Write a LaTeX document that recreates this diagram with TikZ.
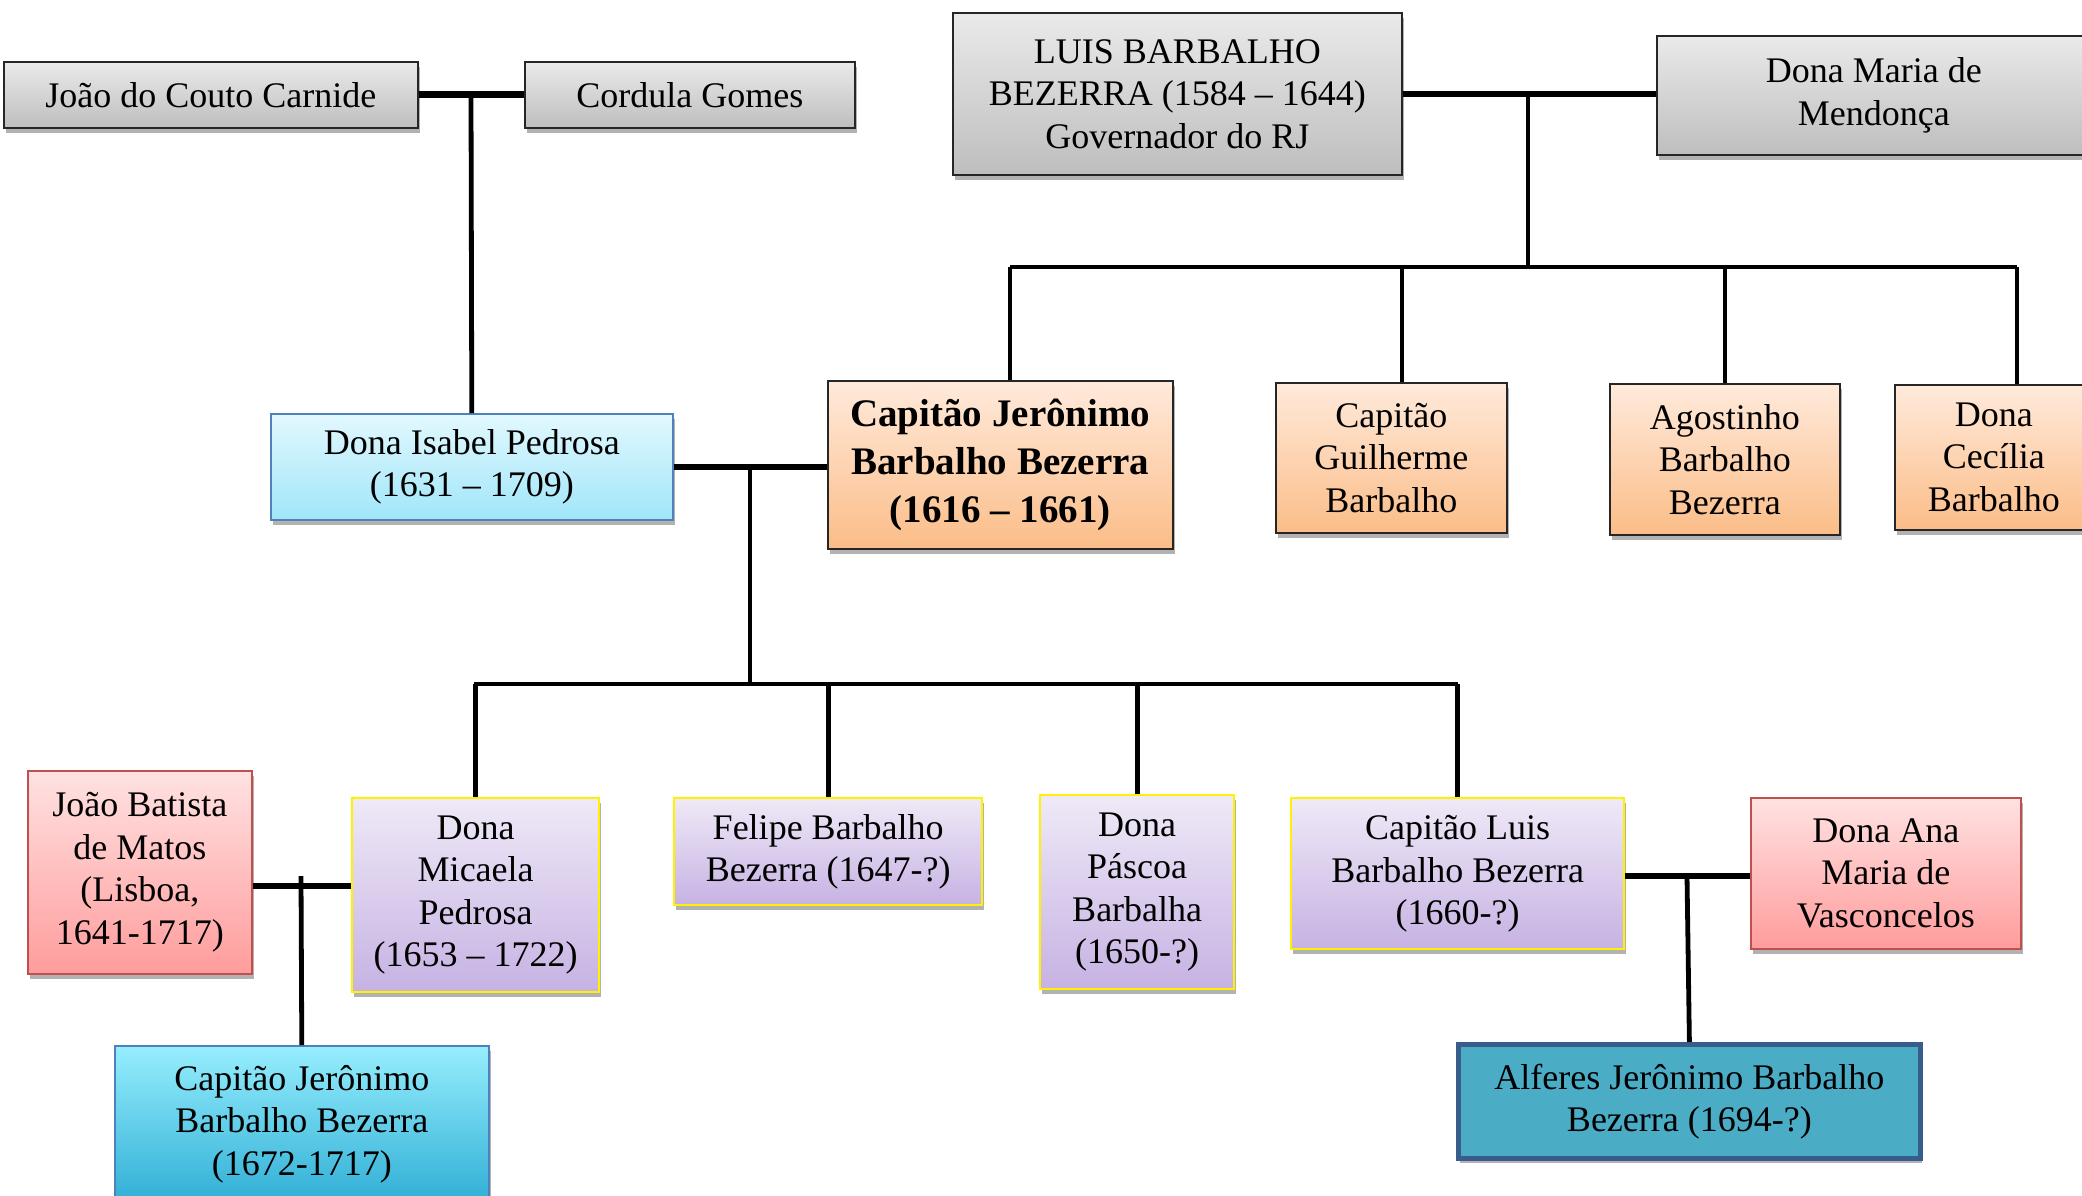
\documentclass[tikz,border=0pt]{standalone}
\usepackage{fontspec}
\setmainfont{Liberation Serif}
\usetikzlibrary{shadows}
\definecolor{grayT}{HTML}{EAEAEA}\definecolor{grayB}{HTML}{BEBEBE}
\definecolor{blueT}{HTML}{E2F8FE}\definecolor{blueB}{HTML}{A0E6FA}
\definecolor{blueL}{HTML}{4F81BD}
\definecolor{orT}{HTML}{FFEADB}\definecolor{orB}{HTML}{FBBD88}
\definecolor{redT}{HTML}{FFE2E2}\definecolor{redB}{HTML}{FF9C9C}
\definecolor{redL}{HTML}{C0504D}
\definecolor{puT}{HTML}{EFE9F7}\definecolor{puB}{HTML}{C6B2E3}
\definecolor{cyT}{HTML}{96EEFD}\definecolor{cyB}{HTML}{31AFD6}
\definecolor{alF}{HTML}{4BACC6}\definecolor{alL}{HTML}{385D8A}
\tikzset{
  box/.style={rectangle, anchor=north west, align=center, inner sep=0pt,
    font=\fontsize{18}{21.25}\selectfont, line width=0.8pt,
    drop shadow={shadow xshift=1pt, shadow yshift=-2.5pt, fill=black, opacity=0.3}},
  graybox/.style={box, draw=black!85, top color=grayT, bottom color=grayB},
  bluebox/.style={box, draw=blueL, top color=blueT, bottom color=blueB},
  orbox/.style={box, draw=black!85, top color=orT, bottom color=orB},
  redbox/.style={box, draw=redL, top color=redT, bottom color=redB},
  pubox/.style={box, draw=yellow, line width=1.2pt, top color=puT, bottom color=puB},
  cybox/.style={box, draw=blueL, top color=cyT, bottom color=cyB},
  albox/.style={box, draw=alL, line width=2.4pt, fill=alF},
  marry/.style={draw=black, line width=3.4pt},
  link/.style={draw=black, line width=2.4pt}
}
\begin{document}
\begin{tikzpicture}[x=0.5pt, y=-0.5pt]
\useasboundingbox (0,0) rectangle (2082,1195);
% generation 1
\node[graybox, minimum width=207pt, minimum height=33pt] (joao) at (3,61) {João do Couto Carnide};
\node[graybox, minimum width=165pt, minimum height=33pt] (cordula) at (524,61) {Cordula Gomes};
\node[graybox, minimum width=224.5pt, minimum height=81pt] (luis) at (952,12) {LUIS BARBALHO\\BEZERRA (1584 – 1644)\\Governador do RJ};
\node[graybox, minimum width=217pt, minimum height=59.5pt] (maria) at (1656,35) {Dona Maria de\\Mendonça};
% generation 2
\node[bluebox, minimum width=201pt, minimum height=53pt] (isabel) at (270,413) {Dona Isabel Pedrosa\\(1631 – 1709)};
\node[orbox, minimum width=172.5pt, minimum height=84pt, font=\fontsize{19.5}{24}\selectfont\bfseries] (capj) at (827,380) {Capitão Jerônimo\\Barbalho Bezerra\\(1616 – 1661)};
\node[orbox, minimum width=115.5pt, minimum height=75pt] (guilherme) at (1275,382) {Capitão\\Guilherme\\Barbalho};
\node[orbox, minimum width=115pt, minimum height=75.5pt] (agostinho) at (1609,383) {Agostinho\\Barbalho\\Bezerra};
\node[orbox, minimum width=99pt, minimum height=72.5pt] (cecilia) at (1894,384) {Dona\\Cecília\\Barbalho};
% generation 3
\node[redbox, minimum width=112pt, minimum height=101.5pt] (joaob) at (27,770) {João Batista\\de Matos\\(Lisboa,\\1641-1717)};
\node[pubox, minimum width=123.5pt, minimum height=97pt] (micaela) at (351,797) {Dona\\Micaela\\Pedrosa\\(1653 – 1722)};
\node[pubox, minimum width=154pt, minimum height=53.5pt] (felipe) at (673,797) {Felipe Barbalho\\Bezerra (1647-?)};
\node[pubox, minimum width=97pt, minimum height=97pt] (pascoa) at (1039,794) {Dona\\Páscoa\\Barbalha\\(1650-?)};
\node[pubox, minimum width=166.5pt, minimum height=75.5pt] (luisb) at (1290,797) {Capitão Luis\\Barbalho Bezerra\\(1660-?)};
\node[redbox, minimum width=135pt, minimum height=75.5pt] (ana) at (1750,797) {Dona Ana\\Maria de\\Vasconcelos};
% generation 4
\node[cybox, minimum width=187pt, minimum height=78pt] (childj) at (114,1045) {Capitão Jerônimo\\Barbalho Bezerra\\(1672-1717)};
\node[albox, minimum width=231pt, minimum height=57pt] (alferes) at (1456,1042) {Alferes Jerônimo Barbalho\\Bezerra (1694-?)};
% connectors
\coordinate (m1) at (471,94);
\draw[marry] (joao.east) -- (cordula.west);
\draw[link] (m1) -- (isabel.north);
\coordinate (m2) at (1528,94);
\draw[marry] (luis.east |- m2) -- (maria.west |- m2);
\coordinate (b1) at (1010,267);
\coordinate (b2) at (1402,267);
\coordinate (b3) at (1725,267);
\coordinate (b4) at (2017,267);
\draw[link] (m2) -- (m2 |- b1);
\draw[link] (b1) -- (b4);
\draw[link] (b1) -- (b1 |- capj.north);
\draw[link] (b2) -- (b2 |- guilherme.north);
\draw[link] (b3) -- (b3 |- agostinho.north);
\draw[link] (b4) -- (b4 |- cecilia.north);
\coordinate (m3) at (750,467);
\draw[marry] (isabel.east |- m3) -- (capj.west |- m3);
\coordinate (c1) at (474,684);
\coordinate (c4) at (1458,684);
\draw[link] (m3) -- (m3 |- c1);
\draw[link] (c1) -- (c4);
\draw[link] (micaela.north |- c1) -- (micaela.north);
\draw[link] (felipe.north |- c1) -- (felipe.north);
\draw[link] (pascoa.north |- c1) -- (pascoa.north);
\draw[link] (luisb.north |- c1) -- (luisb.north);
\coordinate (m4) at (301,886);
\draw[marry] (joaob.east |- m4) -- (micaela.west |- m4);
\coordinate (m4t) at (301,876);
\draw[link] (m4t) -- (childj.north);
\coordinate (m5) at (1687,876);
\draw[marry] (luisb.east |- m5) -- (ana.west |- m5);
\draw[link] (m5) -- (alferes.north);
\end{tikzpicture}
\end{document}
